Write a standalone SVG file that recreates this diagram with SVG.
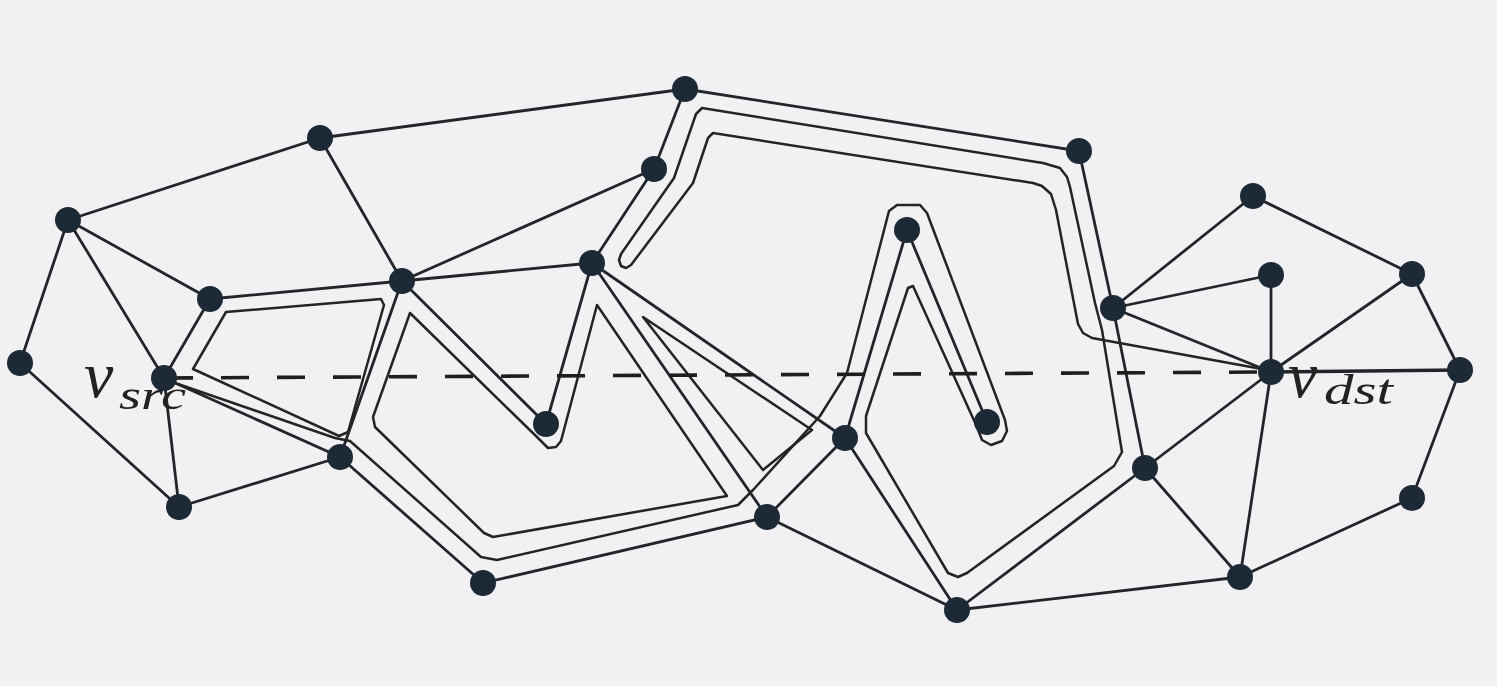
<svg xmlns="http://www.w3.org/2000/svg" width="1497" height="686" viewBox="0 0 1497 686">
<style>
.e{stroke:#22262a;stroke-width:2.8;fill:none;stroke-linecap:round}
.r{stroke:#242424;stroke-width:2.5;fill:none;stroke-linejoin:round;stroke-linecap:round}
.n{fill:#1d2935}
.lbl{font-family:"Liberation Serif",serif;font-style:italic;fill:#222}
</style>
<rect width="1497" height="686" fill="#f1f1f3"/>
<g id="connectors">
<g id="edges">
<line class="e" x1="68" y1="220" x2="320" y2="138"/>
<line class="e" x1="320" y1="138" x2="685" y2="89"/>
<line class="e" x1="685" y1="89" x2="1079" y2="151"/>
<line class="e" x1="685" y1="89" x2="654" y2="169"/>
<line class="e" x1="320" y1="138" x2="402" y2="281"/>
<line class="e" x1="68" y1="220" x2="20" y2="363"/>
<line class="e" x1="68" y1="220" x2="164" y2="378"/>
<line class="e" x1="68" y1="220" x2="210" y2="299"/>
<line class="e" x1="20" y1="363" x2="179" y2="507"/>
<line class="e" x1="164" y1="378" x2="179" y2="507"/>
<line class="e" x1="164" y1="378" x2="210" y2="299"/>
<line class="e" x1="164" y1="378" x2="340" y2="457"/>
<line class="e" x1="179" y1="507" x2="340" y2="457"/>
<line class="e" x1="210" y1="299" x2="402" y2="281"/>
<line class="e" x1="402" y1="281" x2="654" y2="169"/>
<line class="e" x1="402" y1="281" x2="592" y2="263"/>
<line class="e" x1="402" y1="281" x2="340" y2="457"/>
<line class="e" x1="402" y1="281" x2="546" y2="424"/>
<line class="e" x1="592" y1="263" x2="546" y2="424"/>
<line class="e" x1="592" y1="263" x2="654" y2="169"/>
<line class="e" x1="592" y1="263" x2="845" y2="438"/>
<line class="e" x1="592" y1="263" x2="767" y2="517"/>
<line class="e" x1="340" y1="457" x2="483" y2="583"/>
<line class="e" x1="483" y1="583" x2="767" y2="517"/>
<line class="e" x1="767" y1="517" x2="845" y2="438"/>
<line class="e" x1="767" y1="517" x2="957" y2="610"/>
<line class="e" x1="845" y1="438" x2="907" y2="230"/>
<line class="e" x1="907" y1="230" x2="987" y2="422"/>
<line class="e" x1="845" y1="438" x2="957" y2="610"/>
<line class="e" x1="957" y1="610" x2="1145" y2="468"/>
<line class="e" x1="957" y1="610" x2="1240" y2="577"/>
<line class="e" x1="1079" y1="151" x2="1113" y2="308"/>
<line class="e" x1="1113" y1="308" x2="1145" y2="468"/>
<line class="e" x1="1113" y1="308" x2="1253" y2="196"/>
<line class="e" x1="1113" y1="308" x2="1271" y2="275"/>
<line class="e" x1="1113" y1="308" x2="1271" y2="372"/>
<line class="e" x1="1271" y1="275" x2="1271" y2="372"/>
<line class="e" x1="1253" y1="196" x2="1412" y2="274"/>
<line class="e" x1="1412" y1="274" x2="1271" y2="372"/>
<line class="e" x1="1412" y1="274" x2="1460" y2="370"/>
<line class="e" x1="1271" y1="372" x2="1460" y2="370" style="stroke-width:3.6"/>
<line class="e" x1="1271" y1="372" x2="1145" y2="468"/>
<line class="e" x1="1271" y1="372" x2="1240" y2="577"/>
<line class="e" x1="1145" y1="468" x2="1240" y2="577"/>
<line class="e" x1="1460" y1="370" x2="1412" y2="498"/>
<line class="e" x1="1412" y1="498" x2="1240" y2="577"/>
</g>
<g id="route">
<path class="r" d="M1262,369 L1092,338 L1083,333 L1078,324 L1056,210 L1051,194 L1042,186 L1033,183 L713,133 L708,138 L693,183 L631,265 L626,268 L621,266 L619,260 L621,254 L674,178 L696,114 L702,108 L1043,163 L1060,168 L1067,177 L1070,187 L1095,303 L1102,330 L1120,440 L1122,452 L1114,466 L967,573 L958,577 L948,573 L866,433 L866,416 L908,288 L913,286 L977,427 L982,440 L991,445 L1002,441 L1007,431 L1005,420 L927,213 L920,205 L897,205 L889,211 L847,373 L820,416 L753,490 L738,505 L497,560 L481,557 L350,441 L335,438 L178,384"/>
<path class="r" d="M410,313 L537,437 L548,448 L556,447 L561,441 L597,305 L727,496 L493,537 L484,533 L375,427 L373,417 Z"/>
<path class="r" d="M193,369 L226,312 L381,299 L384,305 L348,432 L339,436 Z"/>
<path class="r" d="M643,317 L763,470 L812,430 Z"/>
</g>
<line id="dashed" x1="165" y1="378" x2="1270" y2="372" stroke="#1e1e1e" stroke-width="3.6" stroke-dasharray="28 28"/>
</g>
<g id="labels">
<text class="lbl" x="84" y="397" font-size="66">v</text>
<text class="lbl" x="119" y="409" font-size="42" textLength="67" lengthAdjust="spacingAndGlyphs">src</text>
<text class="lbl" x="1288" y="397" font-size="66">v</text>
<text class="lbl" x="1324" y="404" font-size="42" textLength="69" lengthAdjust="spacingAndGlyphs">dst</text>
</g>
<g id="nodes">
<circle id="n1" class="n" cx="685" cy="89" r="13"/>
<circle id="n2" class="n" cx="320" cy="138" r="13"/>
<circle id="n3" class="n" cx="654" cy="169" r="13"/>
<circle id="n4" class="n" cx="1079" cy="151" r="13"/>
<circle id="n5" class="n" cx="68" cy="220" r="13"/>
<circle id="n6" class="n" cx="1253" cy="196" r="13"/>
<circle id="n7" class="n" cx="907" cy="230" r="13"/>
<circle id="n8" class="n" cx="592" cy="263" r="13"/>
<circle id="n9" class="n" cx="1271" cy="275" r="13"/>
<circle id="n10" class="n" cx="1412" cy="274" r="13"/>
<circle id="n11" class="n" cx="402" cy="281" r="13"/>
<circle id="n12" class="n" cx="210" cy="299" r="13"/>
<circle id="n13" class="n" cx="1113" cy="308" r="13"/>
<circle id="n14" class="n" cx="20" cy="363" r="13"/>
<circle id="n15" class="n" cx="164" cy="378" r="13"/>
<circle id="n16" class="n" cx="1271" cy="372" r="13"/>
<circle id="n17" class="n" cx="1460" cy="370" r="13"/>
<circle id="n18" class="n" cx="546" cy="424" r="13"/>
<circle id="n19" class="n" cx="987" cy="422" r="13"/>
<circle id="n20" class="n" cx="845" cy="438" r="13"/>
<circle id="n21" class="n" cx="340" cy="457" r="13"/>
<circle id="n22" class="n" cx="1145" cy="468" r="13"/>
<circle id="n23" class="n" cx="1412" cy="498" r="13"/>
<circle id="n24" class="n" cx="179" cy="507" r="13"/>
<circle id="n25" class="n" cx="767" cy="517" r="13"/>
<circle id="n26" class="n" cx="483" cy="583" r="13"/>
<circle id="n27" class="n" cx="1240" cy="577" r="13"/>
<circle id="n28" class="n" cx="957" cy="610" r="13"/>
</g>
</svg>
